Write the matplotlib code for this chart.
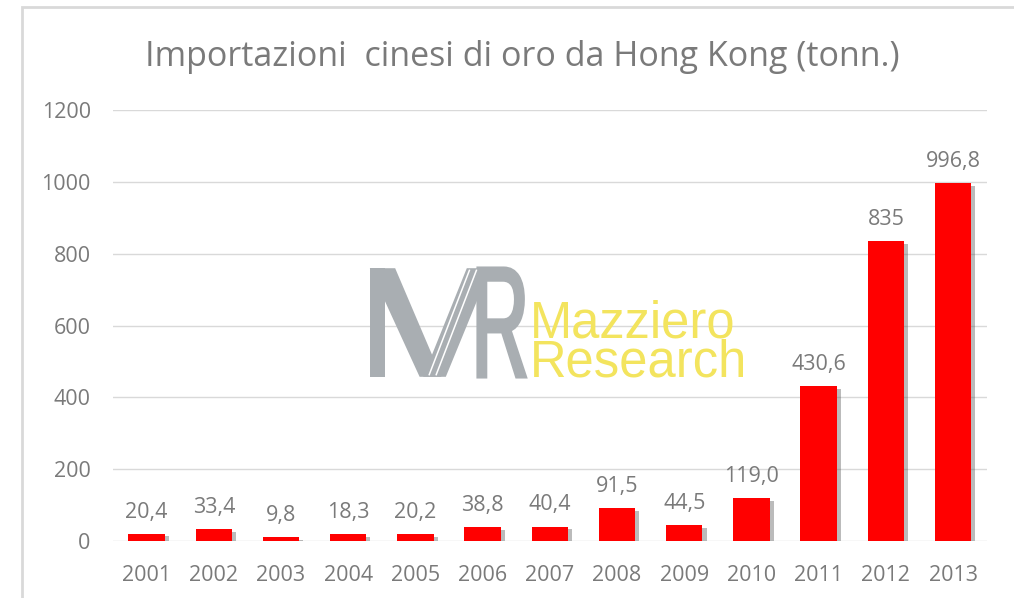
import matplotlib.pyplot as plt
import matplotlib.patheffects as pe
from matplotlib.patches import Rectangle, PathPatch, Polygon
from matplotlib.textpath import TextPath
from matplotlib.font_manager import FontProperties
from matplotlib.transforms import Affine2D

# dati
anni = ['2001', '2002', '2003', '2004', '2005', '2006', '2007',
        '2008', '2009', '2010', '2011', '2012', '2013']
tonnellate = [20.4, 33.4, 9.8, 18.3, 20.2, 38.8, 40.4,
              91.5, 44.5, 119.0, 430.6, 835, 996.8]
etichette = ['20,4', '33,4', '9,8', '18,3', '20,2', '38,8', '40,4',
             '91,5', '44,5', '119,0', '430,6', '835', '996,8']

grigio = '#7a7a7a'
grigio_logo = '#a9aeb2'
giallo = '#f3e45e'
plt.rcParams['font.family'] = ['Open Sans', 'DejaVu Sans']

fig = plt.figure(figsize=(10.14, 5.98), dpi=100)
ax = fig.add_axes([0.1114, 0.0953, 0.8616, 0.7207])

# cornice esterna
fig.patches.append(Rectangle((0.0217, -0.05), 1.0, 1.038, transform=fig.transFigure,
                             fill=False, edgecolor='#d9d9d9', linewidth=2))

x = range(len(anni))
barre = ax.bar(x, tonnellate, width=0.54, color='#ff0000', zorder=3)
for b in barre:
    b.set_path_effects([pe.SimplePatchShadow(offset=(3, -2), shadow_rgbFace='#555555', alpha=0.4),
                        pe.Normal()])

for i, (v, t) in enumerate(zip(tonnellate, etichette)):
    ax.annotate(t, (i, v), xytext=(0, 8), textcoords='offset points',
                ha='center', va='bottom', fontsize=15.5, color=grigio)

ax.set_xlim(-0.5, len(anni) - 0.5)
ax.set_ylim(0, 1200)
ax.set_yticks(range(0, 1201, 200))
ax.set_xticks(list(x))
ax.set_xticklabels(anni)
ax.tick_params(axis='both', length=0, labelsize=15.5, labelcolor=grigio)
ax.tick_params(axis='x', pad=17)
ax.tick_params(axis='y', pad=16)
ax.grid(axis='y', color='#d9d9d9', linewidth=1, zorder=0)
ax.set_axisbelow(True)
for s in ax.spines.values():
    s.set_visible(False)

# logo in filigrana (coordinate frazione degli assi)
top, bot = 0.633, 0.381
pezzi_m = [
    [(0.294, bot), (0.294, top), (0.311, top), (0.311, bot)],          # asta
    [(0.294, top), (0.323, top), (0.376, bot), (0.351, bot)],          # diagonale \
    [(0.355, bot), (0.381, bot), (0.432, top), (0.405, top)],          # diagonale /
]
for p in pezzi_m:
    ax.add_patch(Polygon(p, closed=True, facecolor=grigio_logo, edgecolor='none',
                         transform=ax.transAxes, zorder=1))
for dx in (0.0, 0.008):
    ax.plot([0.362 + dx, 0.408 + dx], [bot + 0.005, top - 0.005], transform=ax.transAxes,
            color='white', linewidth=1.1, zorder=1.5)

tp = TextPath((0, 0), 'R', size=1, prop=FontProperties(family='Liberation Sans'))
ext = tp.get_extents()
x0, x1 = 0.418, 0.472
tr = Affine2D().translate(-ext.x0, -ext.y0).scale((x1 - x0) / ext.width, (top - bot) / ext.height) \
    .translate(x0, bot) + ax.transAxes
ax.add_patch(PathPatch(tp, transform=tr, facecolor=grigio_logo, edgecolor=grigio_logo,
                       linewidth=2.5, zorder=1))

ax.text(0.477, 0.381, 'Mazziero\nResearch', transform=ax.transAxes, fontsize=36.5,
        color=giallo, ha='left', va='baseline', linespacing=0.74,
        family='Liberation Sans', zorder=1)

fig.text(0.515, 0.905, 'Importazioni  cinesi di oro da Hong Kong (tonn.)',
         ha='center', va='center', fontsize=24.5, color=grigio)

fig.savefig('out.png', dpi=100)
